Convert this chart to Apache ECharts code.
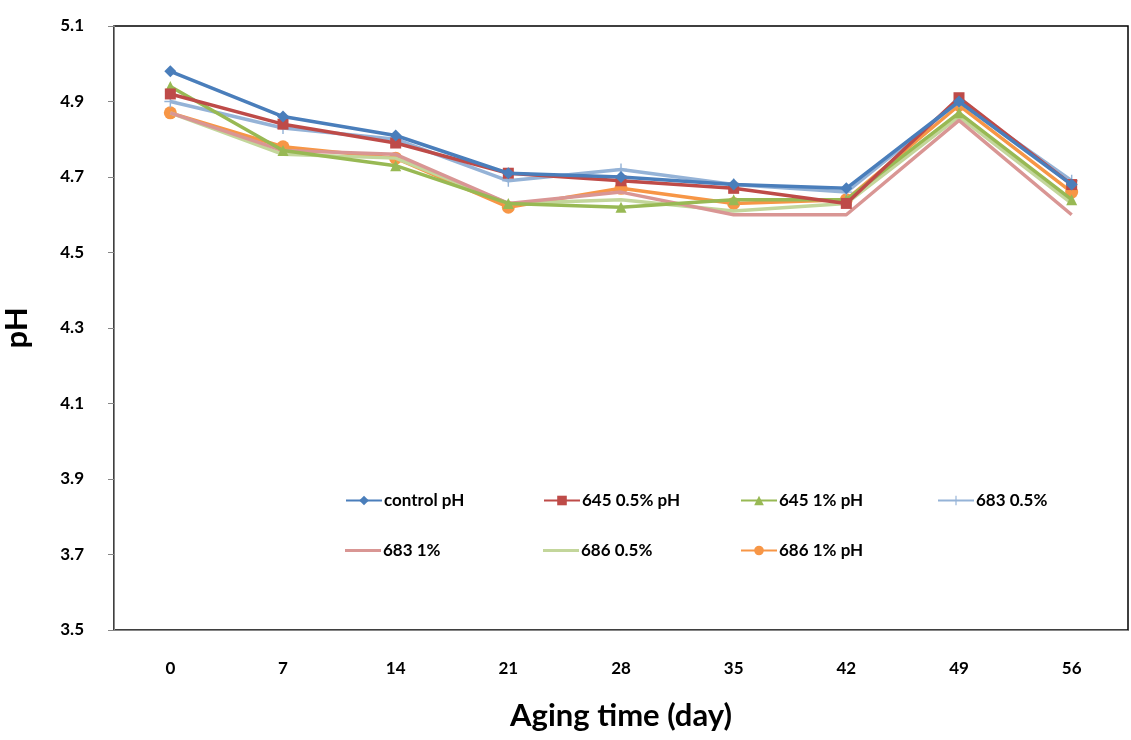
<!DOCTYPE html>
<html>
<head>
<meta charset="utf-8">
<script src="https://cdn.jsdelivr.net/npm/echarts@6/dist/echarts.min.js"></script>
<style>html,body{margin:0;padding:0;background:#fff}#c{width:1131px;height:740px}</style>
</head>
<body>
<div id="c"></div>
<script>
const categories = ['0','7','14','21','28','35','42','49','56'];
const control = [4.98, 4.86, 4.81, 4.71, 4.70, 4.68, 4.67, 4.90, 4.68];
const s645_05 = [4.92, 4.84, 4.79, 4.71, 4.69, 4.67, 4.63, 4.91, 4.68];
const s645_1 = [4.94, 4.77, 4.73, 4.63, 4.62, 4.64, 4.64, 4.87, 4.64];
const s683_05 = [4.90, 4.83, 4.80, 4.69, 4.72, 4.68, 4.66, 4.90, 4.69];
const s683_1 = [4.87, 4.77, 4.76, 4.63, 4.66, 4.60, 4.60, 4.85, 4.60];
const s686_05 = [4.87, 4.76, 4.75, 4.63, 4.64, 4.61, 4.63, 4.86, 4.63];
const s686_1 = [4.87, 4.78, 4.75, 4.62, 4.67, 4.63, 4.64, 4.89, 4.66];
const names = ['control pH','645 0.5% pH','645 1% pH','683 0.5%','683 1%','686 0.5%','686 1% pH'];

const FONT = 'Lato';
const plus = 'path://M4.4,0h1.2v4.4h4.4v1.2h-4.4v4.4h-1.2v-4.4h-4.4v-1.2h4.4z';
const specs = [
  {d: control, c: '#4A7EBB', sym: 'diamond', sz: 12},
  {d: s645_05, c: '#BE4B48', sym: 'rect', sz: 11},
  {d: s645_1, c: '#98B954', sym: 'triangle', sz: 11},
  {d: s683_05, c: '#95B3D7', sym: plus, sz: 12},
  {d: s683_1, c: '#D99694', sym: 'none', sz: 0},
  {d: s686_05, c: '#C3D69B', sym: 'none', sz: 0},
  {d: s686_1, c: '#F79646', sym: 'circle', sz: 13}
];
const series = specs.map((s, i) => ({
  name: names[i], type: 'line', data: s.d,
  symbol: s.sym, symbolSize: s.sz, showSymbol: s.sym !== 'none',
  lineStyle: {color: s.c, width: 3.5},
  itemStyle: {color: s.c},
  emphasis: {disabled: true},
  z: 10 - i
}));
const legPos = [[340,487],[538,487],[735,487],[932,487],[340,537],[538,537],[735,537]];
const legends = names.map((n, i) => {
  const noSym = specs[i].sym === 'none';
  return {
    data: [noSym ? {name: n, icon: 'rect'} : n], left: legPos[i][0], top: legPos[i][1],
    itemWidth: 36, itemHeight: noSym ? 3 : 12, itemGap: 2,
    textStyle: {fontFamily: FONT, fontWeight: 'bold', fontSize: 17, color: '#000', padding: [0,0,0,-3]},
    selectedMode: false
  };
});
const chart = echarts.init(document.getElementById('c'), null, {renderer: 'canvas'});
chart.setOption({
  animation: false,
  backgroundColor: '#fff',
  grid: {left: 114, right: 3, top: 26, bottom: 110, show: true, borderColor: '#000', borderWidth: 1.5,
    containLabel: false, outerBoundsMode: 'none'},
  legend: legends,
  xAxis: {
    type: 'category', data: categories, boundaryGap: true,
    name: 'Aging time (day)', nameLocation: 'middle', nameGap: 70,
    nameTextStyle: {fontFamily: FONT, fontWeight: 'bold', fontSize: 31, color: '#000'},
    axisLine: {lineStyle: {color: '#868686', width: 1}},
    axisTick: {show: false},
    axisLabel: {fontFamily: FONT, fontWeight: 'bold', fontSize: 17, color: '#000', margin: 30},
    splitLine: {show: false}
  },
  yAxis: {
    type: 'value', min: 3.5, max: 5.1, interval: 0.2,
    name: 'pH', nameLocation: 'middle', nameGap: 82, nameRotate: 90,
    nameTextStyle: {fontFamily: FONT, fontWeight: 'bold', fontSize: 31, color: '#000'},
    axisLine: {show: true, lineStyle: {color: '#868686', width: 1}},
    axisTick: {show: true, length: 6, lineStyle: {color: '#868686'}},
    axisLabel: {fontFamily: FONT, fontWeight: 'bold', fontSize: 17, color: '#000', margin: 30,
      formatter: v => v.toFixed(1)},
    splitLine: {show: false}
  },
  series: series
});
</script>
</body>
</html>
